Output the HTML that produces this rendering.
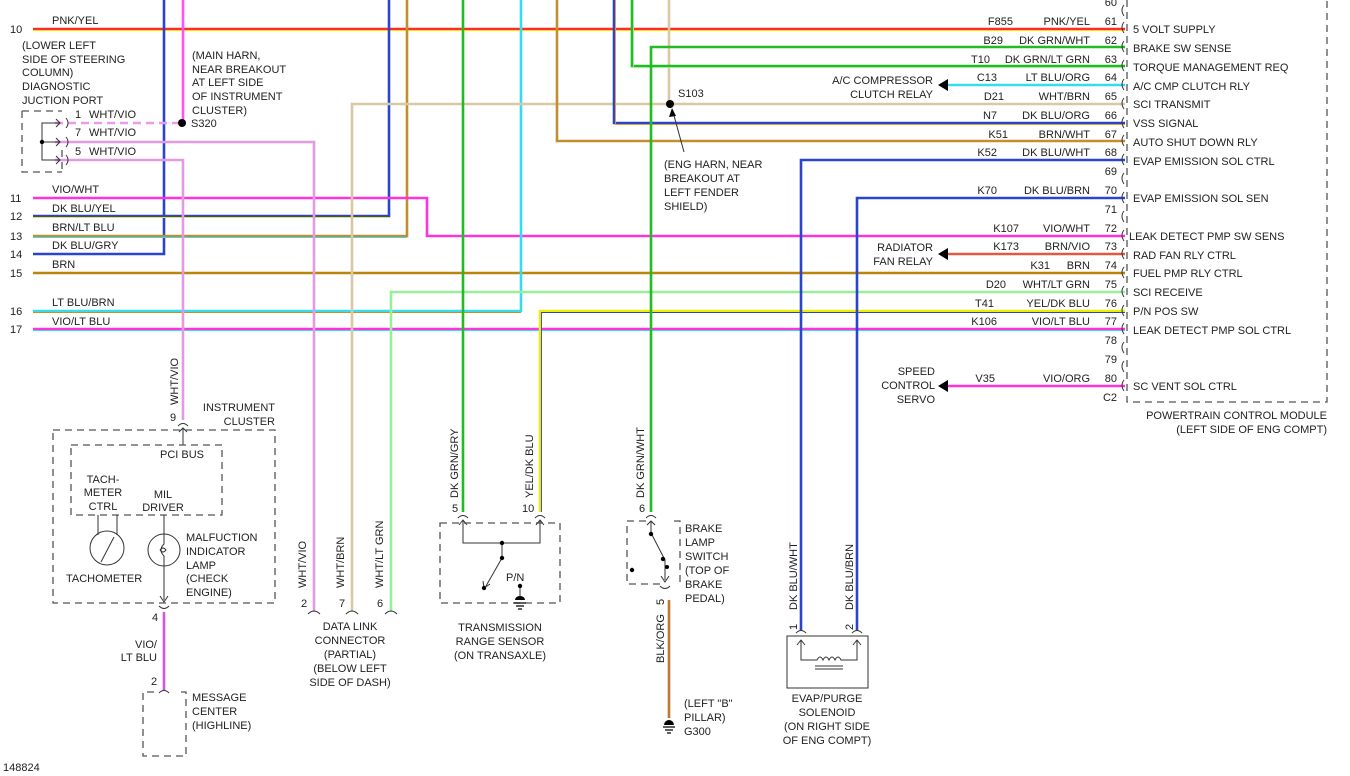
<!DOCTYPE html>
<html><head><meta charset="utf-8"><style>
html,body{margin:0;padding:0;background:#fff;}
svg{display:block;}
text{font-family:"Liberation Sans",sans-serif;font-size:11px;fill:#222;}
.w{fill:none;stroke-width:2.6;}
.t{fill:none;stroke-width:0.9;}
.d{fill:none;stroke:#555;stroke-width:1.3;stroke-dasharray:7,5;}
.k{fill:none;stroke:#333;stroke-width:1;}
.r{text-anchor:end;}
.m{text-anchor:middle;}
</style></head><body>
<svg width="1350" height="776" viewBox="0 0 1350 776" xmlns="http://www.w3.org/2000/svg">
<polyline class="w" stroke="#ff2a2a" points="33,29 1125,29"/><polyline class="t" stroke="#ffe000" points="33,30.5 1125,30.5"/>
<polyline class="w" stroke="#2a44cc" points="33,254 164,254 164,0"/>
<polyline class="w" stroke="#2a44cc" points="33,216 389,216 389,0"/><polyline class="t" stroke="#eeee00" points="33,217.5 389,217.5"/>
<polyline class="w" stroke="#c09030" points="33,236 407,236 407,0"/><polyline class="t" stroke="#33ddee" points="33,237.5 407,237.5"/>
<polyline class="w" stroke="#ff33dd" points="33,198 427,198 427,236 1125,236"/>
<polyline class="w" stroke="#b8860b" points="33,273 1125,273"/>
<polyline class="w" stroke="#33ddee" points="33,311 521,311 521,0"/><polyline class="t" stroke="#c09030" points="33,312.5 521,312.5"/>
<polyline class="w" stroke="#ff33dd" points="33,329 1125,329"/><polyline class="t" stroke="#33ddee" points="33,330.5 1125,330.5"/>
<polyline class="w" stroke="#ff55ee" points="183,0 183,121"/>
<line x1="55" y1="123" x2="178" y2="123" stroke="#ee99ee" stroke-width="2.5" stroke-dasharray="8,5"/>
<polyline class="w" stroke="#e29be2" points="55,142 314,142 314,612"/>
<polyline class="w" stroke="#e29be2" points="55,160 183,160 183,420"/>
<polyline class="w" stroke="#d8c8a4" points="352,612 352,104 1125,104"/>
<polyline class="w" stroke="#d8c8a4" points="669,0 669,102"/>
<polyline class="w" stroke="#99ee99" points="391,612 391,292 1125,292"/>
<polyline class="w" stroke="#22bb22" points="463,0 463,512"/>
<polyline class="w" stroke="#eeee00" points="540,512 540,311 1125,311"/><polyline class="t" stroke="#2a44cc" points="541.5,512 541.5,312.5 1125,312.5"/>
<polyline class="w" stroke="#c09030" points="557,0 557,141 1125,141"/>
<polyline class="w" stroke="#2a44cc" points="614,0 614,123 1125,123"/><polyline class="t" stroke="#e0a040" points="615.5,0 615.5,124.5 1125,124.5"/>
<polyline class="w" stroke="#22bb22" points="632,0 632,66 1125,66"/><polyline class="t" stroke="#99ee99" points="633.5,0 633.5,67.5 1125,67.5"/>
<polyline class="w" stroke="#22bb22" points="651,512 651,47 1125,47"/>
<polyline class="w" stroke="#33ddee" points="945,85 1125,85"/>
<polyline class="w" stroke="#e05a40" points="945,254 1125,254"/>
<polyline class="w" stroke="#2a44cc" points="801,630 801,160 1125,160"/>
<polyline class="w" stroke="#2a44cc" points="857,630 857,198 1125,198"/>
<polyline class="w" stroke="#ff33dd" points="945,386 1125,386"/>
<polyline class="w" stroke="#cc55ee" points="164,612 164,690"/>
<polyline class="w" stroke="#c07830" points="669,600 669,718"/>
<polygon points="938,85 948,79 948,91" fill="#000"/>
<polygon points="938,254 948,248 948,260" fill="#000"/>
<polygon points="938,386 948,380 948,392" fill="#000"/>
<circle cx="182" cy="123" r="4" fill="#000"/>
<circle cx="670" cy="104" r="4" fill="#000"/>
<line x1="673" y1="112" x2="684" y2="152" class="k"/>
<polygon points="672,108 669,117 676,116" fill="#000"/>
<text x="10" y="33">10</text><text x="10" y="202">11</text><text x="10" y="220">12</text><text x="10" y="240">13</text><text x="10" y="258">14</text><text x="10" y="277">15</text><text x="10" y="315">16</text><text x="10" y="333">17</text>
<text x="52" y="24">PNK/YEL</text><text x="52" y="193">VIO/WHT</text><text x="52" y="212">DK BLU/YEL</text><text x="52" y="231">BRN/LT BLU</text><text x="52" y="249">DK BLU/GRY</text><text x="52" y="268">BRN</text><text x="52" y="306">LT BLU/BRN</text><text x="52" y="325">VIO/LT BLU</text>
<text x="22" y="49">(LOWER LEFT</text><text x="22" y="63">SIDE OF STEERING</text><text x="22" y="76">COLUMN)</text><text x="22" y="90">DIAGNOSTIC</text><text x="22" y="104">JUCTION PORT</text>
<text x="192" y="59">(MAIN HARN,</text><text x="192" y="73">NEAR BREAKOUT</text><text x="192" y="86">AT LEFT SIDE</text><text x="192" y="100">OF INSTRUMENT</text><text x="192" y="114">CLUSTER)</text>
<text x="191" y="127">S320</text>
<text x="75" y="118">1</text><text x="89" y="118">WHT/VIO</text>
<text x="75" y="136">7</text><text x="89" y="136">WHT/VIO</text>
<text x="75" y="155">5</text><text x="89" y="155">WHT/VIO</text>
<path class="d" d="M22,111 H62 M22,111 V172 H62 M62,150 V172" />
<polyline class="k" points="42,142 42,123 60,123"/><polyline class="k" points="42,142 42,160 60,160"/><polyline class="k" points="42,142 60,142"/>
<circle cx="42" cy="142" r="2.2" fill="#000"/>
<path class="k" d="M56,119 L60,123 L56,127 M56,138 L60,142 L56,146 M56,156 L60,160 L56,164 M66,118 q4,5 0,10 M66,137 q4,5 0,10 M66,155 q4,5 0,10"/>
<text x="678" y="97">S103</text>
<text x="664" y="168">(ENG HARN, NEAR</text><text x="664" y="182">BREAKOUT AT</text><text x="664" y="196">LEFT FENDER</text><text x="664" y="210">SHIELD)</text>
<g>
<text class="r" x="1013" y="25">F855</text><text class="r" x="1090" y="25">PNK/YEL</text><text class="r" x="1117" y="25">61</text>
<text class="r" x="1003" y="44">B29</text><text class="r" x="1090" y="44">DK GRN/WHT</text><text class="r" x="1117" y="44">62</text>
<text class="r" x="990" y="63">T10</text><text class="r" x="1090" y="63">DK GRN/LT GRN</text><text class="r" x="1117" y="63">63</text>
<text class="r" x="997" y="81">C13</text><text class="r" x="1090" y="81">LT BLU/ORG</text><text class="r" x="1117" y="81">64</text>
<text class="r" x="1004" y="100">D21</text><text class="r" x="1090" y="100">WHT/BRN</text><text class="r" x="1117" y="100">65</text>
<text class="r" x="997" y="119">N7</text><text class="r" x="1090" y="119">DK BLU/ORG</text><text class="r" x="1117" y="119">66</text>
<text class="r" x="1008" y="138">K51</text><text class="r" x="1090" y="138">BRN/WHT</text><text class="r" x="1117" y="138">67</text>
<text class="r" x="997" y="156">K52</text><text class="r" x="1090" y="156">DK BLU/WHT</text><text class="r" x="1117" y="156">68</text>
<text class="r" x="1117" y="175">69</text>
<text class="r" x="997" y="194">K70</text><text class="r" x="1090" y="194">DK BLU/BRN</text><text class="r" x="1117" y="194">70</text>
<text class="r" x="1117" y="213">71</text>
<text class="r" x="1019" y="232">K107</text><text class="r" x="1090" y="232">VIO/WHT</text><text class="r" x="1117" y="232">72</text>
<text class="r" x="1019" y="250">K173</text><text class="r" x="1090" y="250">BRN/VIO</text><text class="r" x="1117" y="250">73</text>
<text class="r" x="1050" y="269">K31</text><text class="r" x="1090" y="269">BRN</text><text class="r" x="1117" y="269">74</text>
<text class="r" x="1006" y="288">D20</text><text class="r" x="1090" y="288">WHT/LT GRN</text><text class="r" x="1117" y="288">75</text>
<text class="r" x="994" y="307">T41</text><text class="r" x="1090" y="307">YEL/DK BLU</text><text class="r" x="1117" y="307">76</text>
<text class="r" x="997" y="325">K106</text><text class="r" x="1090" y="325">VIO/LT BLU</text><text class="r" x="1117" y="325">77</text>
<text class="r" x="1117" y="344">78</text><text class="r" x="1117" y="363">79</text>
<text class="r" x="995" y="382">V35</text><text class="r" x="1090" y="382">VIO/ORG</text><text class="r" x="1117" y="382">80</text>
<text class="r" x="1117" y="401">C2</text>
<text class="r" x="1117" y="6">60</text>
<text class="r" x="933" y="84">A/C COMPRESSOR</text><text class="r" x="933" y="98">CLUTCH RELAY</text>
<text class="r" x="933" y="251">RADIATOR</text><text class="r" x="933" y="265">FAN RELAY</text>
<text class="r" x="935" y="375">SPEED</text><text class="r" x="935" y="389">CONTROL</text><text class="r" x="935" y="403">SERVO</text>
</g>
<path class="d" d="M1127,0 V402 H1327 V0"/>
<g class="k">
<path d="M1124,22 q-4,5 0,11 M1124,41 q-4,5 0,11 M1124,60 q-4,5 0,11 M1124,79 q-4,5 0,11 M1124,98 q-4,5 0,11 M1124,117 q-4,5 0,11 M1124,135 q-4,5 0,11 M1124,154 q-4,5 0,11 M1124,173 q-4,5 0,11 M1124,192 q-4,5 0,11 M1124,211 q-4,5 0,11 M1124,230 q-4,5 0,11 M1124,248 q-4,5 0,11 M1124,267 q-4,5 0,11 M1124,286 q-4,5 0,11 M1124,305 q-4,5 0,11 M1124,323 q-4,5 0,11 M1124,342 q-4,5 0,11 M1124,361 q-4,5 0,11 M1124,380 q-4,5 0,11 M1124,5 q-4,5 0,11"/>
</g>
<text x="1133" y="33">5 VOLT SUPPLY</text><text x="1133" y="52">BRAKE SW SENSE</text><text x="1133" y="71">TORQUE MANAGEMENT REQ</text><text x="1133" y="90">A/C CMP CLUTCH RLY</text><text x="1133" y="108">SCI TRANSMIT</text><text x="1133" y="127">VSS SIGNAL</text><text x="1133" y="146">AUTO SHUT DOWN RLY</text><text x="1133" y="165">EVAP EMISSION SOL CTRL</text><text x="1133" y="202">EVAP EMISSION SOL SEN</text><text x="1129" y="240">LEAK DETECT PMP SW SENS</text><text x="1133" y="259">RAD FAN RLY CTRL</text><text x="1133" y="277">FUEL PMP RLY CTRL</text><text x="1133" y="296">SCI RECEIVE</text><text x="1133" y="315">P/N POS SW</text><text x="1133" y="334">LEAK DETECT PMP SOL CTRL</text><text x="1133" y="390">SC VENT SOL CTRL</text>
<text class="r" x="1327" y="419">POWERTRAIN CONTROL MODULE</text><text class="r" x="1327" y="433">(LEFT SIDE OF ENG COMPT)</text>
<text transform="translate(178,405) rotate(-90)">WHT/VIO</text>
<text x="170" y="421">9</text>
<text class="r" x="275" y="411">INSTRUMENT</text><text class="r" x="275" y="425">CLUSTER</text>
<path class="k" d="M178,426 q5,-5 10,0 M183,428 V445 M179,432 L183,428 L187,432"/>
<rect class="d" x="53" y="430" width="222" height="173"/>
<rect class="d" x="71" y="445" width="151" height="70"/>
<text x="160" y="458">PCI BUS</text>
<text class="m" x="103" y="483">TACH-</text><text class="m" x="103" y="496">METER</text><text class="m" x="103" y="510">CTRL</text>
<text class="m" x="163" y="498">MIL</text><text class="m" x="163" y="511">DRIVER</text>
<path class="k" d="M98,515 V535 M117,515 V535"/>
<circle class="k" cx="107" cy="548" r="17"/><line class="k" x1="101" y1="562" x2="114" y2="537"/>
<circle class="k" cx="164" cy="550" r="16"/>
<path class="k" d="M164,515 V544 q-6,6 0,12 V600 M160,596 L164,602 L168,596 M160,550 q3,-4 6,0 q-3,4 -6,0"/>
<text x="66" y="582">TACHOMETER</text>
<text x="186" y="541">MALFUCTION</text><text x="186" y="555">INDICATOR</text><text x="186" y="569">LAMP</text><text x="186" y="582">(CHECK</text><text x="186" y="596">ENGINE)</text>
<path class="k" d="M159,606 q5,5 10,0"/>
<text x="152" y="621">4</text>
<text class="r" x="157" y="648">VIO/</text><text class="r" x="157" y="661">LT BLU</text>
<text x="151" y="685">2</text>
<path class="k" d="M159,693 q5,-5 10,0"/>
<path class="d" d="M154,692 H143 V756 H186 V692 H176"/>
<text x="192" y="701">MESSAGE</text><text x="192" y="715">CENTER</text><text x="192" y="729">(HIGHLINE)</text>
<text x="3" y="771">148824</text>
<text transform="translate(306,588) rotate(-90)">WHT/VIO</text>
<text transform="translate(344,588) rotate(-90)">WHT/BRN</text>
<text transform="translate(383,588) rotate(-90)">WHT/LT GRN</text>
<text x="301" y="607">2</text><text x="339" y="607">7</text><text x="377" y="607">6</text>
<path class="k" d="M308,614 q6,-6 12,0 M346,614 q6,-6 12,0 M385,614 q6,-6 12,0"/>
<text class="m" x="350" y="630">DATA LINK</text><text class="m" x="350" y="644">CONNECTOR</text><text class="m" x="350" y="658">(PARTIAL)</text><text class="m" x="350" y="672">(BELOW LEFT</text><text class="m" x="350" y="686">SIDE OF DASH)</text>
<text transform="translate(458,498) rotate(-90)">DK GRN/GRY</text>
<text transform="translate(533,498) rotate(-90)">YEL/DK BLU</text>
<text x="452" y="512">5</text><text x="522" y="512">10</text>
<path class="k" d="M458,518 q5,-5 10,0 M535,518 q5,-5 10,0"/>
<rect class="d" x="440" y="523" width="120" height="80"/>
<path class="k" d="M463,520 V543 H540 V520 M459,525 L463,520 L467,525 M536,525 L540,520 L544,525 M502,543 V558 L486,586 M483,581 L484,588 L490,584 M520,586 V600"/>
<circle cx="502" cy="543" r="2.2" fill="#000"/><circle cx="502" cy="558" r="2.2" fill="#000"/><circle cx="484" cy="588" r="2.2" fill="#000"/><circle cx="520" cy="586" r="2.2" fill="#000"/>
<path d="M514,603 h12 M516,606 h8 M518,609 h4" stroke="#000" stroke-width="1.2"/><path d="M515,600 a5,4 0 0 1 10,0 z" fill="#000"/>
<text x="506" y="581">P/N</text>
<text class="m" x="500" y="631">TRANSMISSION</text><text class="m" x="500" y="645">RANGE SENSOR</text><text class="m" x="500" y="659">(ON TRANSAXLE)</text>
<text transform="translate(644,498) rotate(-90)">DK GRN/WHT</text>
<text x="639" y="512">6</text>
<path class="k" d="M646,518 q5,-5 10,0"/>
<path class="d" d="M646,521 H627 V584 H660 M674,521 H680 V584"/>
<path class="k" d="M651,521 V533 L665,560 V580 M647,525 L651,521 L655,525 M661,576 L665,582 L669,576 M660,586 q5,5 10,0"/>
<circle cx="651" cy="534" r="2.2" fill="#000"/><circle cx="663" cy="559" r="2.2" fill="#000"/><circle cx="632" cy="570" r="2.2" fill="#000"/><circle cx="667" cy="567" r="2" fill="#000"/>
<text x="685" y="532">BRAKE</text><text x="685" y="546">LAMP</text><text x="685" y="560">SWITCH</text><text x="685" y="574">(TOP OF</text><text x="685" y="588">BRAKE</text><text x="685" y="602">PEDAL)</text>
<text transform="translate(664,605) rotate(-90)">5</text>
<text transform="translate(664,663) rotate(-90)">BLK/ORG</text>
<text x="684" y="707">(LEFT "B"</text><text x="684" y="721">PILLAR)</text><text x="684" y="735">G300</text>
<path d="M663,727 h12 M665,730 h8 M667,733 h4" stroke="#000" stroke-width="1.2"/><path d="M664,725 a5,5 0 0 1 10,0 z" fill="#000"/>
<text transform="translate(797,610) rotate(-90)">DK BLU/WHT</text>
<text transform="translate(853,610) rotate(-90)">DK BLU/BRN</text>
<text transform="translate(797,630) rotate(-90)">1</text><text transform="translate(853,630) rotate(-90)">2</text>
<path class="k" d="M796,633 q5,-5 10,0 M852,633 q5,-5 10,0"/>
<rect class="k" x="787" y="636" width="81" height="52"/>
<path class="k" d="M801,640 V660 H817 q3,-6 6,0 q3,-6 6,0 q3,-6 6,0 q3,-6 6,0 H857 V640 M797,645 L801,640 L805,645 M853,645 L857,640 L861,645 M815,666 h28 M815,669 h28"/>
<text class="m" x="827" y="702">EVAP/PURGE</text>
<text class="m" x="827" y="716">SOLENOID</text><text class="m" x="827" y="730">(ON RIGHT SIDE</text><text class="m" x="827" y="744">OF ENG COMPT)</text>
</svg>
</body></html>
